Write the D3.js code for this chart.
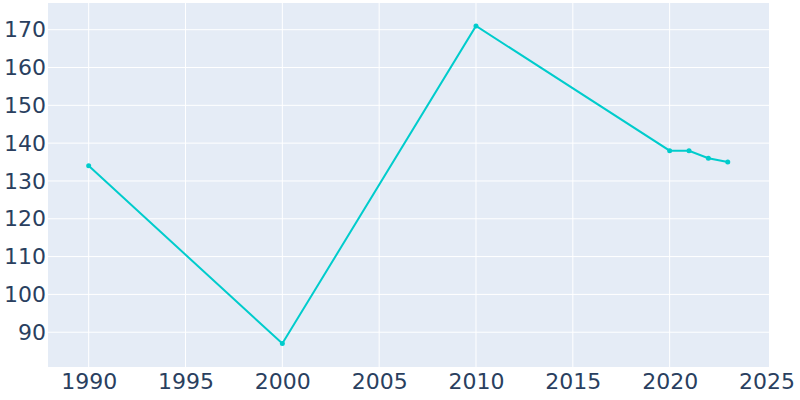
<!DOCTYPE html>
<html><head><meta charset="utf-8">
<script src="https://cdn.jsdelivr.net/npm/d3@7"></script>
<style>body{margin:0;background:#fff}svg{display:block}</style>
</head><body>
<svg id="c" width="800" height="400"></svg>
<script>
const years = [1990, 2000, 2010, 2020, 2021, 2022, 2023];
const population = [134, 87, 171, 138, 138, 136, 135];
const xTicks = [1990, 1995, 2000, 2005, 2010, 2015, 2020, 2025];
const yTicks = [90, 100, 110, 120, 130, 140, 150, 160, 170];

const L = 48, R = 769, T = 3, B = 367;
const svg = d3.select("#c");
const x = d3.scaleLinear().domain([1987.9, 2025.13]).range([L, R]);
const y = d3.scaleLinear().domain([80.8, 177.06]).range([B, T]);

svg.append("rect").attr("x", L).attr("y", T).attr("width", R - L).attr("height", B - T).attr("fill", "#e5ecf6");

const g = svg.append("g");
g.selectAll(".vg").data(xTicks.filter(t => x(t) < R - 6)).join("line")
  .attr("x1", d => x(d)).attr("x2", d => x(d)).attr("y1", T).attr("y2", B)
  .attr("stroke", "#fff").attr("stroke-width", 1);
g.selectAll(".hg").data(yTicks).join("line")
  .attr("x1", L).attr("x2", R).attr("y1", d => y(d)).attr("y2", d => y(d))
  .attr("stroke", "#fff").attr("stroke-width", 1);

const font = "'DejaVu Sans', sans-serif";
const xAxis = d3.axisBottom(x).tickValues(xTicks).tickFormat(d3.format("d")).tickSize(0).tickPadding(6);
const xa = svg.append("g").attr("transform", `translate(0,${B})`).call(xAxis);
const yAxis = d3.axisLeft(y).tickValues(yTicks).tickFormat(d3.format("d")).tickSize(0).tickPadding(2);
const ya = svg.append("g").attr("transform", `translate(${L},0)`).call(yAxis);
[xa, ya].forEach(a => {
  a.select(".domain").remove();
  a.selectAll("text").attr("fill", "#2a3f5f").style("font-family", font).style("font-size", "22px");
});

const data = years.map((yr, i) => ({yr, v: population[i]}));
const line = d3.line().x(d => x(d.yr)).y(d => y(d.v));
svg.append("path").datum(data).attr("d", line).attr("fill", "none")
  .attr("stroke", "#00cccc").attr("stroke-width", 2);
svg.selectAll(".pt").data(data).join("circle")
  .attr("cx", d => x(d.yr)).attr("cy", d => y(d.v)).attr("r", 2.5).attr("fill", "#00cccc");
</script>
</body></html>
